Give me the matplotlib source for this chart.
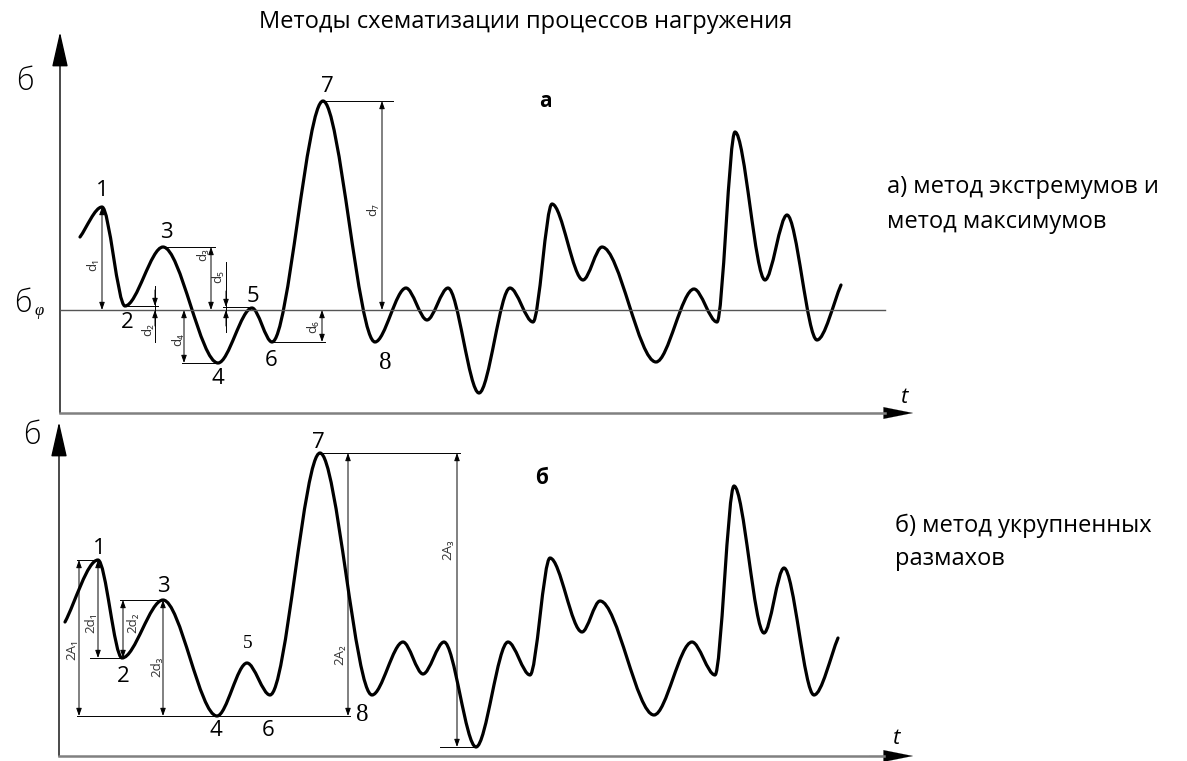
import matplotlib
matplotlib.use("Agg")
import matplotlib.pyplot as plt
from matplotlib.path import Path
from matplotlib.patches import PathPatch, FancyArrowPatch

# ---------------- data ----------------
# Panel "а": time t and stress sigma (relative to sigma_phi)
t_a = [2.0, 4.2, 6.5, 10.3, 15.8, 19.2, 21.2, 26.3, 31.5, 34.6, 36.7, 38.8, 41.9,
       45.0, 47.3, 49.2, 52.3, 54.2, 59.6, 63.4, 65.7, 67.5, 70.5, 72.7, 75.7, 78.1]
s_a = [7.3, 10.3, 0.4, 6.3, -5.3, 0.2, -3.2, 20.9, -3.2, 2.2, -1.0, 2.2, -8.3,
       2.2, -1.2, 10.6, 3.0, 6.3, -5.2, 2.1, -1.2, 17.8, 3.0, 9.5, -3.0, 2.5]
# Panel "б"
t_b = [0.6, 3.9, 6.3, 10.4, 15.8, 18.8, 21.1, 26.1, 31.3, 34.4, 36.4, 38.5, 41.7,
       44.9, 47.1, 49.1, 52.3, 54.1, 59.5, 63.3, 65.6, 67.5, 70.5, 72.5, 75.5, 77.9]
s_b = [13.4, 19.6, 9.8, 15.6, 4.0, 9.3, 6.1, 30.3, 6.1, 11.4, 8.2, 11.4, 0.9,
       11.4, 8.1, 19.8, 12.4, 15.5, 4.1, 11.4, 8.1, 27.0, 12.3, 18.8, 6.1, 11.8]

point_labels = ["1", "2", "3", "4", "5", "6", "7", "8"]   # extrema 1..8 (index 1..8)

title = "Методы схематизации процессов нагружения"
caption_a = ["а) метод экстремумов и", "метод максимумов"]
caption_b = ["б) метод укрупненных", "размахов"]

W, H = 1187, 761
fig = plt.figure(figsize=(W / 100, H / 100), dpi=100)
fig.patch.set_facecolor("white")

SANS = ["Open Sans", "DejaVu Sans"]
SERIF = ["Liberation Serif", "DejaVu Serif"]


def px_axes(x0, y0, x1, y1):
    return fig.add_axes([x0 / W, 1 - y1 / H, (x1 - x0) / W, (y1 - y0) / H])


def smooth(ax, ts, ss, k=0.32, lw=2.3):
    verts = [(ts[0], ss[0])]
    codes = [Path.MOVETO]
    n = len(ts)
    for i in range(n - 1):
        t0, s0, t1, s1 = ts[i], ss[i], ts[i + 1], ss[i + 1]
        dt = t1 - t0
        if i == 0:
            c1 = (t0 + 0.3 * dt, s0 + 0.3 * (s1 - s0))
        else:
            c1 = (t0 + k * dt, s0)
        if i == n - 2:
            c2 = (t1 - 0.3 * dt, s1 - 0.3 * (s1 - s0))
        else:
            c2 = (t1 - k * dt, s1)
        verts += [c1, c2, (t1, s1)]
        codes += [Path.CURVE4] * 3
    ax.add_patch(PathPatch(Path(verts, codes), fill=False, lw=lw, color="black",
                           capstyle="round", joinstyle="round", clip_on=False))


def arrow(ax, p0, p1, hl, hw, lw=1.0, color="black"):
    a = FancyArrowPatch(p0, p1, arrowstyle=f"-|>,head_length={hl},head_width={hw}",
                        mutation_scale=10, lw=lw, color=color, shrinkA=0, shrinkB=0,
                        clip_on=False)
    ax.add_patch(a)


def dim(ax, t, s0, s1):
    a = FancyArrowPatch((t, s0), (t, s1),
                        arrowstyle="<|-|>,head_length=0.45,head_width=0.16",
                        mutation_scale=10, lw=0.7, color="black", shrinkA=0, shrinkB=0,
                        clip_on=False)
    ax.add_patch(a)


def hline(ax, t0, t1, s):
    ax.plot([t0, t1], [s, s], color="black", lw=0.7, clip_on=False)


def dlabel(ax, t, s, txt):
    ax.text(t, s, txt, rotation=90, ha="center", va="center", fontsize=9.5,
            color="#333333", family=SANS)


def small_arrow(ax, t, s_tip, s_from):
    a = FancyArrowPatch((t, s_from), (t, s_tip),
                        arrowstyle="-|>,head_length=0.45,head_width=0.16",
                        mutation_scale=10, lw=0.7, color="black", shrinkA=0, shrinkB=0,
                        clip_on=False)
    ax.add_patch(a)


# ---------------- panel а ----------------
ax_a = px_axes(60, 30, 920, 413)
ax_a.set_xlim(0, 86)
ax_a.set_ylim(-10.3, 28)
ax_a.axis("off")

ax_a.plot([0, 82.5], [-10.3, -10.3], color="#808080", lw=1.8, clip_on=False)
arrow(ax_a, (81.0, -10.3), (85.3, -10.3), 2.1, 0.42, lw=0.1)
arrow(ax_a, (0, -10.3), (0, 27.8), 2.2, 0.5, lw=1.0)
ax_a.plot([0, 82.5], [0, 0], color="#555555", lw=1.0, clip_on=False)

smooth(ax_a, t_a, s_a)

# dimensions, panel а
dim(ax_a, t_a[1], s_a[1], 0); dlabel(ax_a, 3.3, 4.5, "d₁")
ax_a.plot([9.5, 9.5], [2.4, -3.2], color="black", lw=0.7)
small_arrow(ax_a, 9.5, s_a[2], 2.0)
small_arrow(ax_a, 9.5, 0, -1.6)
hline(ax_a, t_a[2], 9.8, s_a[2]); dlabel(ax_a, 8.8, -2.0, "d₂")
dim(ax_a, 15.1, s_a[3], 0); hline(ax_a, t_a[3], 15.5, s_a[3]); dlabel(ax_a, 14.3, 5.5, "d₃")
dim(ax_a, 12.4, 0, s_a[4]); hline(ax_a, 12.2, t_a[4], s_a[4]); dlabel(ax_a, 11.8, -3.0, "d₄")
ax_a.plot([16.6, 16.6], [4.8, -2.2], color="black", lw=0.7)
small_arrow(ax_a, 16.6, 0.3, 1.9)
small_arrow(ax_a, 16.6, 0, -1.6)
hline(ax_a, 16.3, t_a[5], 0.3); dlabel(ax_a, 15.8, 3.3, "d₅")
dim(ax_a, 26.2, 0, s_a[6]); hline(ax_a, t_a[6], 26.5, s_a[6]); dlabel(ax_a, 25.3, -1.7, "d₆")
dim(ax_a, 32.2, s_a[7], 0); hline(ax_a, t_a[7], 33.3, s_a[7]); dlabel(ax_a, 31.3, 10.0, "d₇")

# extremum numbers, panel а (offsets in pixels)
off_a = [(0, 17), (2, -17), (3, 15), (0, -16), (1, 12), (-1, -18), (4, 15), (10, -21)]
for j, lab in enumerate(point_labels):
    i = j + 1
    serif = lab == "8"
    ax_a.annotate(lab, (t_a[i], s_a[i]), xytext=(off_a[j][0] * 0.72, off_a[j][1] * 0.72),
                  textcoords="offset points", ha="center", va="center",
                  fontsize=18 if serif else 16, family=SERIF if serif else SANS)

ax_a.text(0.564, 0.813, "а", transform=ax_a.transAxes, ha="center", va="center",
          fontsize=15, fontweight="bold", family=SANS)

# ---------------- panel б ----------------
ax_b = px_axes(59, 420, 920, 756)
ax_b.set_xlim(0, 86.1)
ax_b.set_ylim(0, 33.6)
ax_b.axis("off")

ax_b.plot([0, 82.5], [0, 0], color="#808080", lw=1.8, clip_on=False)
arrow(ax_b, (81.0, 0), (85.4, 0), 2.1, 0.42, lw=0.1)
arrow(ax_b, (0, 0), (0, 33.4), 2.2, 0.5, lw=1.0)

smooth(ax_b, t_b, s_b)

dim(ax_b, 2.0, s_b[1], s_b[4]); hline(ax_b, 1.8, t_b[1], s_b[1])
hline(ax_b, 1.8, 29.1, s_b[4]); dlabel(ax_b, 1.3, 10.6, "2A₁")
dim(ax_b, t_b[1], s_b[1], s_b[2]); hline(ax_b, 3.1, t_b[2], s_b[2]); dlabel(ax_b, 3.2, 13.3, "2d₁")
dim(ax_b, 6.4, s_b[3], s_b[2]); hline(ax_b, 6.1, t_b[3], s_b[3]); dlabel(ax_b, 7.4, 13.3, "2d₂")
dim(ax_b, t_b[3], s_b[3], s_b[4]); dlabel(ax_b, 9.8, 8.9, "2d₃")
dim(ax_b, 28.9, s_b[7], s_b[4]); hline(ax_b, t_b[7], 40.1, s_b[7]); dlabel(ax_b, 28.1, 10.1, "2A₂")
dim(ax_b, 39.8, s_b[7], s_b[12]); hline(ax_b, 38.1, t_b[12], s_b[12]); dlabel(ax_b, 38.9, 20.6, "2A₃")

off_b = [(1, 12), (1, -19), (0, 14), (-1, -15), (1, 20), (-2, -36), (-2, 11), (-10, -20)]
for j, lab in enumerate(point_labels):
    i = j + 1
    serif = lab in ("5", "8")
    fs = 14 if lab == "5" else (18 if serif else 16)
    ax_b.annotate(lab, (t_b[i], s_b[i]), xytext=(off_b[j][0] * 0.72, off_b[j][1] * 0.72),
                  textcoords="offset points", ha="center", va="center",
                  fontsize=fs, family=SERIF if serif else SANS)

ax_b.text(0.560, 0.827, "б", transform=ax_b.transAxes, ha="center", va="center",
          fontsize=15, fontweight="bold", family=SANS)

# ---------------- axis symbols & texts ----------------
def ftext(x, y, s, **kw):
    fig.text(x / W, 1 - y / H, s, **kw)

ftext(25, 82, "б", ha="center", va="center", fontsize=22, family=SANS, fontweight="light")
ftext(23, 304, "б", ha="center", va="center", fontsize=22, family=SANS, fontweight="light")
ftext(39, 311, "φ", ha="center", va="center", fontsize=12, family=SERIF, style="italic")
ftext(32, 436, "б", ha="center", va="center", fontsize=22, family=SANS, fontweight="light")
ftext(905, 397, "t", ha="center", va="center", fontsize=16, family=SANS, style="italic")
ftext(897, 739, "t", ha="center", va="center", fontsize=16, family=SANS, style="italic")

ftext(526, 22, title, ha="center", va="center", fontsize=17, family=SANS)
ftext(887, 193, caption_a[0], ha="left", va="baseline", fontsize=17, family=SANS)
ftext(887, 228, caption_a[1], ha="left", va="baseline", fontsize=17, family=SANS)
ftext(895, 532, caption_b[0], ha="left", va="baseline", fontsize=17, family=SANS)
ftext(895, 565, caption_b[1], ha="left", va="baseline", fontsize=17, family=SANS)

fig.savefig("out.png", dpi=100, facecolor="white")
